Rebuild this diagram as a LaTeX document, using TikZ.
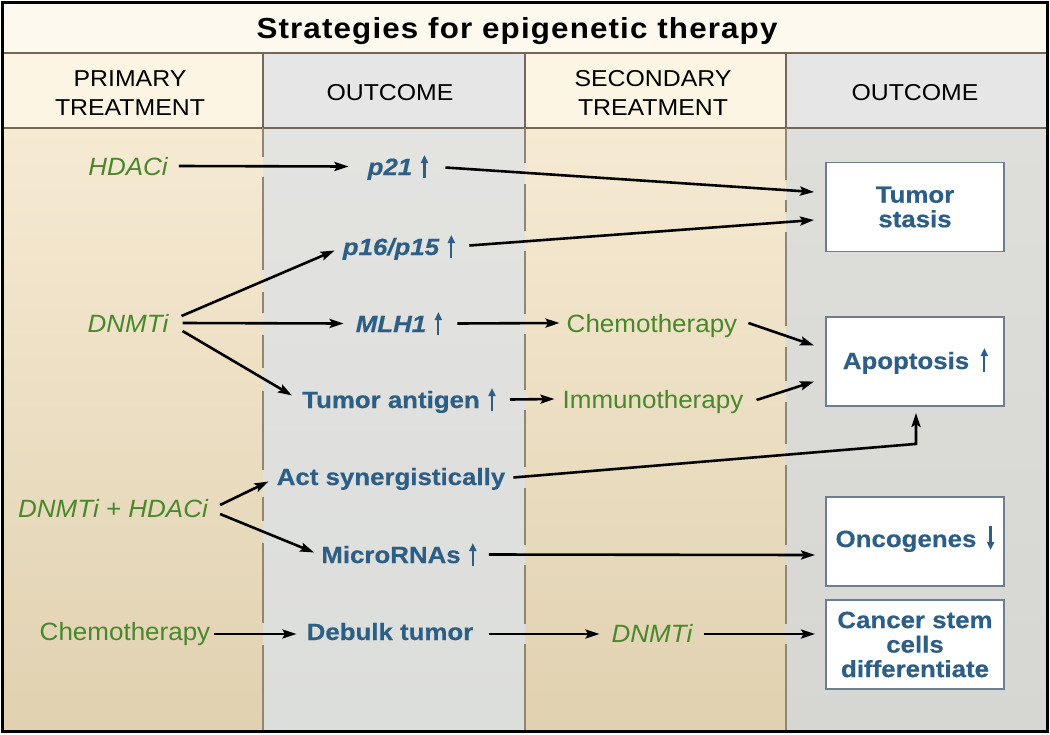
\documentclass[tikz,border=0pt]{standalone}
\usepackage{fontspec}
\setmainfont{Liberation Sans}
\newfontfamily\titlefont[LetterSpace=4,FakeStretch=1.08]{Liberation Sans}
\newfontfamily\headfont[FakeStretch=1.08]{Liberation Sans}
\newfontfamily\bluefont[FakeStretch=1.1,FakeBold=0.5]{Liberation Sans}
\newfontfamily\greenfont[FakeStretch=1.04]{Liberation Sans}
\usetikzlibrary{arrows.meta}
\definecolor{tgreen}{RGB}{72,136,42}
\definecolor{tblue}{RGB}{45,94,134}
\definecolor{boxc}{RGB}{110,125,145}
\definecolor{divc}{RGB}{150,132,115}
\definecolor{hlc}{RGB}{118,102,86}
\definecolor{titlebg}{RGB}{253,249,238}
\definecolor{hdrtan}{RGB}{252,245,228}
\definecolor{hdrgray}{RGB}{230,230,230}
\definecolor{tantop}{RGB}{246,234,211}
\definecolor{tanbot}{RGB}{224,209,176}
\definecolor{graytop}{RGB}{227,227,224}
\definecolor{graybot}{RGB}{220,222,220}
\definecolor{gray4top}{RGB}{222,222,218}
\definecolor{gray4bot}{RGB}{214,215,211}
\begin{document}
\begin{tikzpicture}[x=1pt,y=-1pt,
  gtext/.style={font=\greenfont\fontsize{25}{29}\selectfont, text=tgreen, inner sep=0pt, text height=18pt, text depth=0pt, anchor=base},
  btext/.style={font=\bluefont\bfseries\fontsize{23.5}{26}\selectfont, text=tblue, inner sep=0pt, text height=17pt, text depth=0pt, anchor=base},
  boxtext/.style={font=\bluefont\bfseries\fontsize{23.5}{24.5}\selectfont, text=tblue, align=center},
  outbox/.style={draw=boxc, line width=1.8pt, fill=white, minimum width=178pt, minimum height=89pt, inner sep=0pt},
  arr/.style={draw=black, line width=2.6pt, -{Stealth[length=14pt,width=9pt,inset=2.5pt]}},
  uparr/.style={draw=tblue, line width=2.2pt, -{Triangle[length=8pt,width=7pt]}},
  hdr/.style={font=\headfont\fontsize{23}{29}\selectfont, align=center, inner sep=0pt},
  divider/.style={draw=divc, line width=1.8pt},
  hline/.style={draw=hlc, line width=2pt},
]
\useasboundingbox (0,0) rectangle (1050,734);
% backgrounds
\fill[titlebg] (2,2) rectangle (1048,53);
\fill[hdrtan] (2,53) rectangle (263,128);
\fill[hdrgray] (263,53) rectangle (525,128);
\fill[hdrtan] (525,53) rectangle (786,128);
\fill[hdrgray] (786,53) rectangle (1048,128);
\shade[top color=tantop, bottom color=tanbot] (2,128) rectangle (263,732);
\shade[top color=graytop, bottom color=graybot] (263,128) rectangle (525,732);
\shade[top color=tantop, bottom color=tanbot] (525,128) rectangle (786,732);
\shade[top color=gray4top, bottom color=gray4bot] (786,128) rectangle (1048,732);
% header lines
\draw[hline] (2,53) -- (1048,53);
\draw[hline] (2,128) -- (1048,128);
\foreach \x in {263,525,786} \draw[hline] (\x,53) -- (\x,128);
% body dividers (with gaps where arrows cross)
\foreach \a/\b in {128/157,177/270,292/313,335/368,391/470,497/521,543/623,645/732}
  \draw[divider] (263,\a) -- (263,\b);
\foreach \a/\b in {128/163,184/231,251/314,334/390,410/467,488/545,565/624,644/732}
  \draw[divider] (525,\a) -- (525,\b);
\foreach \a/\b in {128/180,200/212,232/326,347/381,402/444,465/545,565/624,644/732}
  \draw[divider] (786,\a) -- (786,\b);
% outer border
\draw[black, line width=3pt] (2.5,2.5) rectangle (1047.5,731.5);
% title and headers
\node[font=\titlefont\bfseries\fontsize{29}{32}\selectfont, anchor=base, inner sep=0pt] (title) at (517,38.5) {Strategies for epigenetic therapy};
\node[hdr] (h1) at (130,93) {PRIMARY\\TREATMENT};
\node[hdr] (h2) at (390,93) {OUTCOME};
\node[hdr] (h3) at (653,93) {SECONDARY\\TREATMENT};
\node[hdr] (h4) at (915,93) {OUTCOME};
% body texts
\node[gtext] (hdaci) at (128,175) {\itshape HDACi};
\node[btext] (p21) at (390,175) {\itshape p21};
\node[btext] (p16) at (391,255) {\itshape p16/p15};
\node[gtext] (dnmti) at (128,332) {\itshape DNMTi};
\node[btext] (mlh1) at (391,332) {\itshape MLH1};
\node[btext] (tumant) at (391,408) {Tumor antigen};
\node[gtext] (chemo2) at (652,332) {Chemotherapy};
\node[gtext] (immuno) at (653,408) {Immunotherapy};
\node[btext] (actsyn) at (391,485) {Act synergistically};
\node[gtext] (hh) at (113,517) {\itshape DNMTi + HDACi};
\node[btext] (micro) at (391,563) {MicroRNAs};
\node[gtext] (chemo1) at (125,640) {Chemotherapy};
\node[btext] (debulk) at (390,640) {Debulk tumor};
\node[gtext] (dnmti2) at (652,642) {\itshape DNMTi};
% outcome boxes
\node[outbox, boxtext] (stasis) at (915,207) {Tumor\\stasis};
\node[outbox] (apop) at (915,361.5) {};
\node[btext] (apoptxt) at (906,369) {Apoptosis};
\node[outbox] (onco) at (915,541.5) {};
\node[btext] (oncotxt) at (906,547) {Oncogenes};
\node[outbox, boxtext] (cancer) at (915,644.5) {Cancer stem\\cells\\differentiate};
% small up/down arrows
\foreach \n in {p21,p16,mlh1,tumant,micro}
  \draw[uparr] ([shift={(12,3)}]\n.base east) -- ++(0,-23);
\draw[uparr] ([shift={(15,3)}]apoptxt.base east) -- ++(0,-24);
\draw[uparr] ([shift={(14,-21)}]oncotxt.base east) -- ++(0,24);
% connectors
\draw[arr] ([xshift=11pt]hdaci.east) -- ([xshift=-19pt]p21.west);
\draw[arr] ([shift={(33,1)}]p21.east) -- ([shift={(-11,-15)}]stasis.west);
\draw[arr] ([shift={(30,-1)}]p16.east) -- ([shift={(-11,13)}]stasis.west);
\draw[arr] ([shift={(13,-7)}]dnmti.east) -- ([shift={(-8,4)}]p16.west);
\draw[arr] ([xshift=14pt]dnmti.east) -- ([xshift=-12pt]mlh1.west);
\draw[arr] ([shift={(14,8)}]dnmti.east) -- ([shift={(-10,-4)}]tumant.west);
\draw[arr] ([xshift=31pt]mlh1.east) -- ([xshift=-7pt]chemo2.west);
\draw[arr] ([xshift=30pt]tumant.east) -- ([xshift=-8pt]immuno.west);
\draw[arr] ([shift={(11,0)}]chemo2.east) -- ([shift={(-11,-16)}]apop.west);
\draw[arr] ([shift={(13,1)}]immuno.east) -- ([shift={(-11,20)}]apop.west);
\draw[arr] ([shift={(8,1)}]actsyn.east) -- ([shift={(1,37)}]apop.south) -- ([shift={(1,6)}]apop.south);
\draw[arr] ([shift={(12,-3)}]hh.east) -- ([shift={(-8,5)}]actsyn.west);
\draw[arr] ([shift={(12,6)}]hh.east) -- ([shift={(-7,-2)}]micro.west);
\draw[arr] ([xshift=28pt]micro.east) -- ([shift={(-10,13.5)}]onco.west);
\draw[arr] ([shift={(4,3)}]chemo1.east) -- ([shift={(-10,2.5)}]debulk.west);
\draw[arr] ([shift={(15,2.5)}]debulk.east) -- ([shift={(-12,1)}]dnmti2.west);
\draw[arr] ([shift={(11,1)}]dnmti2.east) -- ([shift={(-10,-10.5)}]cancer.west);
\end{tikzpicture}
\end{document}
